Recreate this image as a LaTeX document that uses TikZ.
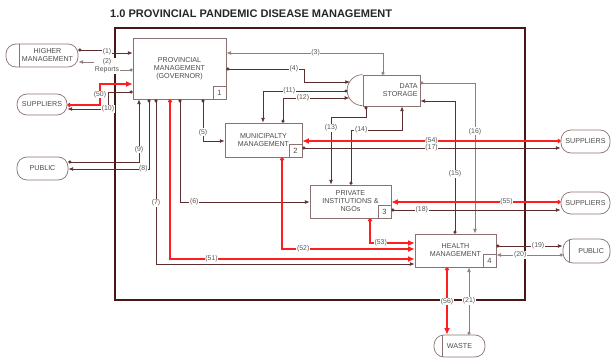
\documentclass[tikz,border=0pt]{standalone}
\usepackage{fontspec}
\setmainfont{Liberation Sans}
\usetikzlibrary{arrows.meta}
\definecolor{framecol}{HTML}{4A1616}
\definecolor{lncol}{HTML}{5E2E2E}
\definecolor{greyln}{HTML}{8E7E7E}
\definecolor{redln}{HTML}{FF1E1E}
\definecolor{boxcol}{HTML}{8A7272}
\definecolor{txtcol}{HTML}{4A4A4A}
\definecolor{labcol}{HTML}{555555}
\tikzset{
  proc/.style={draw=boxcol, line width=0.6pt, inner sep=0pt, align=center, text=txtcol, font=\fontsize{6.1}{6.8}\selectfont},
  ext/.style={proc, rounded corners=0.3cm},
  numbox/.style={draw=boxcol, line width=0.6pt, inner sep=0pt, minimum size=0.39cm, text=txtcol, font=\fontsize{6.4}{7}\selectfont},
  wh/.style 2 args={minimum width=#1*0.03cm, minimum height=#2*0.03cm},
  flow/.style={draw=lncol, line width=0.6pt, {Circle[length=2.6pt]}-{Latex[length=4pt,width=3.2pt]}},
  gflow/.style={flow, draw=greyln},
  rflow/.style={draw=redln, line width=1.4pt, {Circle[length=3.4pt]}-{Latex[length=5.5pt,width=5pt]}},
  lbl/.style={fill=white, inner sep=0.5pt, align=center, text=labcol, font=\fontsize{5.9}{6.8}\selectfont},
}
\begin{document}
\begin{tikzpicture}[x=0.03cm, y=-0.03cm]
    \useasboundingbox (0,0) rectangle (611,360);
    % title and frame
    \node[anchor=west, inner sep=0pt, text=black!85, font=\bfseries\fontsize{9.4}{11}\selectfont] (title) at (110,13.5) {1.0 PROVINCIAL PANDEMIC DISEASE MANAGEMENT};
    \draw[framecol, line width=1.4pt] (115,28) rectangle (525,300);
    % processes
    \node[proc, wh={93}{61}] (prov) at (179.5,68.5) {PROVINCIAL\\MANAGEMENT\\(GOVERNOR)};
    \node[proc, wh={77}{34}] (mun) at (263.5,140) {MUNICIPALTY\\MANAGEMENT};
    \node[proc, wh={81}{33}] (priv) at (350.5,201.5) {PRIVATE\\INSTITUTIONS \&\\NGOs};
    \node[proc, wh={81}{33}] (health) at (455.5,250.5) {HEALTH\\MANAGEMENT};
    \node[numbox, anchor=south east] (prov-n) at (prov.south east) {1};
    \node[numbox, anchor=south east] (mun-n) at (mun.south east) {2};
    \node[numbox, anchor=south east] (priv-n) at (priv.south east) {3};
    \node[numbox, anchor=south east] (health-n) at (health.south east) {4};
    % data store
    \node[proc, wh={57}{31}] (store) at (391.5,90.5) {};
    \draw[boxcol, line width=0.6pt] (store.north west) arc (270:90:15.5);
    \node[proc, draw=none, align=right, anchor=east] (store-t) at (418,90.5) {DATA\\STORAGE};
    \coordinate (arc4) at (350,82);
    \coordinate (arc11) at (347.5,91);
    \coordinate (arc12) at (349.4,98);
    % external entities
    \node[ext, wh={72}{23}] (hm) at (42,55.5) {};
    \draw[boxcol, line width=0.6pt] (hm.north west) ++(14,0) -- ++(0,23);
    \node[proc, draw=none] (hm-t) at (47.5,55.5) {HIGHER\\MANAGEMENT};
    \node[ext, wh={50}{21}] (supl) at (42,104.5) {SUPPLIERS};
    \node[ext, wh={51}{23}] (publ) at (42.5,168.5) {PUBLIC};
    \node[ext, wh={49}{23}] (supr1) at (585.5,141.5) {SUPPLIERS};
    \node[ext, wh={49}{22}] (supr2) at (585.5,203) {SUPPLIERS};
    \node[ext, wh={47}{24}] (pubr) at (586.5,251) {\hspace{8pt}PUBLIC};
    \draw[boxcol, line width=0.6pt] (pubr.north west) ++(7,1) -- ++(0,22);
    \node[ext, wh={51}{22}] (waste) at (459.5,346) {WASTE};
    \draw[boxcol, line width=0.6pt] (waste.north west) ++(9,0) -- ++(0,22);
    % flows round the governor
    \draw[flow] (hm.east |- 0,50) -- (107,50) -- node[lbl]{(1)} (107,53) -- (prov.west |- 0,53);
    \draw[gflow] (prov.west |- 0,70) -- (107,70) -- node[lbl]{(2)\\Reports} (107,62) -- (hm.east |- 0,62);
    \draw[rflow] (supl.east |- 0,105) -- (100,105) -- node[lbl]{(50)} (100,84) -- (prov.west |- 0,84);
    \draw[flow] (prov.west |- 0,92) -- (108,92) -- (108,109) node[lbl]{(10)} -- (supl.east |- 0,109);
    \draw[flow] (publ.east |- 0,162) -- (139,162) -- node[lbl, pos=0.2]{(9)} (139,0 |- prov.south);
    \draw[flow] (149,0 |- prov.south) -- (149,169) -- node[lbl, pos=0.07]{(8)} (publ.east |- 0,169);
    \draw[flow] (156,0 |- prov.south) -- node[lbl, pos=0.63]{(7)} (156,264) -- (health.west |- 0,264);
    \draw[rflow] (170,0 |- prov.south) -- (170,259) -- node[lbl, pos=0.17]{(51)} (health.west |- 0,259);
    \draw[flow] (180,0 |- prov.south) -- (180,202) -- node[lbl, pos=0.11]{(6)} (priv.west |- 0,202);
    \draw[flow] (203,0 |- prov.south) -- node[lbl, pos=0.79]{(5)} (203,141) -- (mun.west |- 0,141);
    \draw[gflow] (383,0 |- store.north) -- (383,53) -- node[lbl, pos=0.43]{(3)} (prov.east |- 0,53);
    \draw[flow] (prov.east |- 0,69) -- node[lbl, pos=0.87]{(4)} (304,69) -- (304,82) -- (arc4);
    % flows round the data store
    \draw[flow] (arc11) -- node[lbl, pos=0.69]{(11)} (263,91) -- (263,0 |- mun.north);
    \draw[flow] (283,0 |- mun.north) -- (283,98) -- node[lbl, pos=0.3]{(12)} (arc12);
    \draw[flow] (366,0 |- store.south) -- (366,117) -- (331,117) -- node[lbl, pos=0.16]{(13)} (331,0 |- priv.north);
    \draw[flow] (351,0 |- priv.north) -- (351,130) -- node[lbl, pos=0.2]{(14)} (402,130) -- (402,0 |- store.south);
    \draw[flow] (455,0 |- health.north) -- node[lbl, pos=0.45]{(15)} (455,101) -- (store.east |- 0,101);
    \draw[gflow] (store.east |- 0,83) -- (475,83) -- node[lbl, pos=0.32]{(16)} (475,0 |- health.north);
    % suppliers
    \draw[rflow] (supr1.west |- 0,141) -- node[lbl]{(54)} (mun.east |- 0,141);
    \draw[flow] (mun.east |- 0,148) -- node[lbl]{(17)} (supr1.west |- 0,148);
    \draw[rflow] (supr2.west |- 0,202) -- node[lbl, pos=0.32]{(55)} (priv.east |- 0,202);
    \draw[flow] (priv.east |- 0,210) -- node[lbl, pos=0.18]{(18)} (supr2.west |- 0,210);
    % into health
    \draw[rflow] (282,0 |- mun.south) -- (282,249) -- node[lbl, pos=0.16]{(52)} (health.west |- 0,249);
    \draw[rflow] (370,0 |- priv.south) -- (370,243) -- node[lbl, pos=0.24]{(53)} (health.west |- 0,243);
    \draw[flow] (health.east |- 0,246) -- node[lbl, pos=0.63]{(19)} (pubr.west |- 0,246);
    \draw[gflow] (pubr.west |- 0,255) -- node[lbl, pos=0.64]{(20)} (health.east |- 0,255);
    \draw[rflow] (447,0 |- health.south) -- node[lbl, pos=0.51]{(56)} (447,0 |- waste.north);
    \draw[gflow] (469,0 |- waste.north) -- node[lbl]{(21)} (469,0 |- health.south);
\end{tikzpicture}
\end{document}
